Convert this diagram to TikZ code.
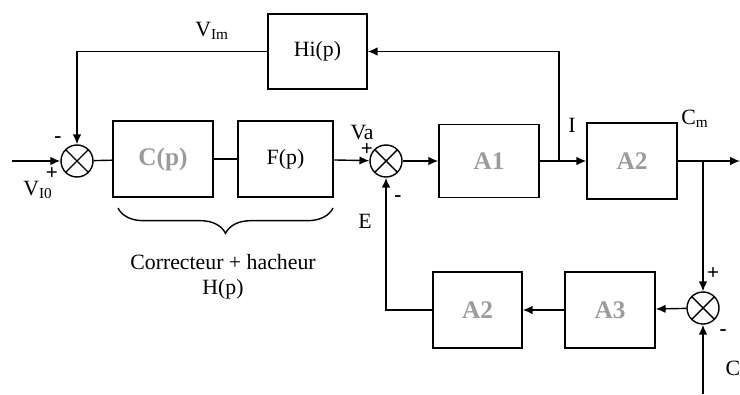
\documentclass[tikz,border=0pt]{standalone}
\usepackage{fontspec}
\setmainfont{Liberation Serif}
\usetikzlibrary{shapes,arrows, positioning, calc}
\usetikzlibrary{arrows.meta,decorations.pathreplacing}

\definecolor{grisbloc}{RGB}{155,155,155}

\tikzset{
    bloc/.style={draw, line width=1pt, font=\fontsize{15.5}{18}\selectfont},
    blocgris/.style={bloc, text=grisbloc, font=\fontsize{18}{20}\selectfont\bfseries},
    sommateur/.style={draw, circle, line width=1pt, minimum size=0.8cm, inner sep=0pt,
        path picture={\draw[line width=1pt] (path picture bounding box.north west) -- (path picture bounding box.south east)
            (path picture bounding box.south west) -- (path picture bounding box.north east);}},
    signe/.style={font=\fontsize{15}{17}\selectfont\bfseries},
    etiquette/.style={font=\fontsize{15.5}{18}\selectfont}
}

\begin{document}
\begin{tikzpicture}[x=0.025cm, y=-0.025cm, line width=1pt, >={Latex[length=7pt,width=6pt]}]
    \useasboundingbox (0,0) rectangle (740,394);

    % chaine directe
    \node[sommateur] (sumI) at (77,161) {};
    \node[blocgris, minimum width=2.5cm, minimum height=1.9cm] (cp) at (163,159) {C(p)};
    \node[bloc, minimum width=2.375cm, minimum height=1.9cm] (fp) at (285.5,159) {F(p)};
    \node[sommateur] (sumV) at (386,161) {};
    \node[blocgris, minimum width=2.5cm, minimum height=1.825cm] (aun) at (489,161) {A1};
    \node[blocgris, minimum width=2.25cm, minimum height=1.9cm] (adeux) at (632,161) {A2};

    % retour courant
    \node[bloc, minimum width=2.475cm, minimum height=1.875cm] (hi) at (317.5,51.5) {Hi(p)};

    % retour couple
    \node[sommateur] (sumC) at (703,308) {};
    \node[blocgris, minimum width=2.25cm, minimum height=1.9cm] (atrois) at (610,310) {A3};
    \node[blocgris, minimum width=2.225cm, minimum height=1.9cm] (adeuxb) at (477.5,310) {A2};

    \coordinate (entree) at (12,161);
    \coordinate (sortie) at (740,161);
    \coordinate (brI) at (559,161);
    \coordinate (brC) at (703,161);
    \coordinate (cin) at (703,394);

    % liaisons
    \draw[->] (entree) -- (sumI);
    \draw (sumI) -- (cp);
    \draw (cp) -- (fp);
    \draw[->] (fp) -- (sumV);
    \draw[->] (sumV) -- (aun);
    \draw[->] (aun) -- (adeux);
    \draw[->] (adeux) -- (sortie);
    \draw[->] (brI) |- (hi);
    \draw[->] (hi) -| (sumI);
    \draw[->] (brC) -- (sumC);
    \draw[->] (cin) -- (sumC);
    \draw[->] (sumC) -- (atrois);
    \draw[->] (atrois) -- (adeuxb);
    \draw[->] (adeuxb) -| (sumV);

    % signes et grandeurs
    \node[signe] (moinsI) at (58,140) {-};
    \node[signe] (plusI) at (52,174) {+};
    \node[etiquette] (vio) at (38,190) {V\textsubscript{I0}};
    \node[etiquette] (vim) at (212,31) {V\textsubscript{Im}};
    \node[etiquette] (va) at (362,133) {Va};
    \node[signe] (plusV) at (367,150) {+};
    \node[signe] (moinsV) at (398,199) {-};
    \node[etiquette] (e) at (365,221) {E};
    \node[etiquette] (i) at (572,125) {I};
    \node[etiquette] (cm) at (695,119) {C\textsubscript{m}};
    \node[signe] (plusC) at (713,274) {+};
    \node[signe] (moinsC) at (723,333) {-};
    \node[etiquette] (c) at (733,368) {C};

    % accolade
    \draw[decorate, decoration={brace, mirror, amplitude=18pt}] (118,208) -- (333,208);
    \node[etiquette, align=center] (hp) at (223,277) {Correcteur + hacheur\\H(p)};
\end{tikzpicture}
\end{document}
